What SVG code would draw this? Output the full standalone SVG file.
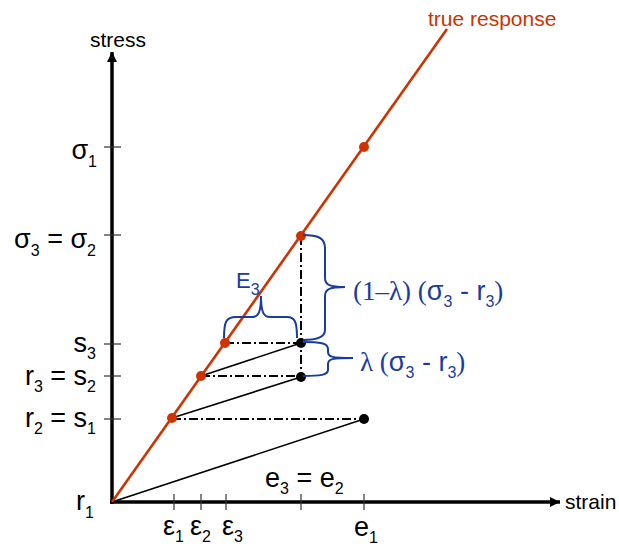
<svg xmlns="http://www.w3.org/2000/svg" width="619" height="550" viewBox="0 0 619 550">
<style>
.lbl{font-family:"Liberation Sans",Arial,sans-serif;font-size:27px;fill:#000}
.sub{font-size:16px}
.ax{font-family:"Liberation Sans",Arial,sans-serif;font-size:21px;fill:#000}
.red{font-family:"Liberation Sans",Arial,sans-serif;font-size:21px;fill:#cc3300}
.blue{font-family:"Liberation Sans",Arial,sans-serif;font-size:27px;fill:#1a3c9e}
.serif{font-family:"Liberation Serif","Times New Roman",serif}
.axis{stroke:#000;stroke-width:3.5;fill:none}
.tick{stroke:#333;stroke-width:1.2}
.thin{stroke:#000;stroke-width:1.6;fill:none}
.dd{stroke:#000;stroke-width:2;stroke-dasharray:9 3 2 3;fill:none}
.brace{stroke:#1a3c9e;stroke-width:2;fill:none}
.rdot{fill:#cc3300}
.bdot{fill:#000}
</style>
<defs>
<marker id="arr" markerUnits="userSpaceOnUse" markerWidth="11" markerHeight="10" refX="10" refY="5" orient="auto">
<path d="M0,0 L10,5 L0,10 z" fill="#000"/>
</marker>
</defs>
<g id="axes">
<line class="axis" x1="112" y1="504" x2="112" y2="52" marker-end="url(#arr)"/>
<line class="axis" x1="110" y1="502" x2="560" y2="502" marker-end="url(#arr)"/>
<text class="ax" x="90" y="47">stress</text>
<text class="ax" x="565" y="509">strain</text>
</g>
<g id="ticks">
<line class="tick" x1="104" y1="147" x2="121" y2="147"/>
<line class="tick" x1="104" y1="235" x2="121" y2="235"/>
<line class="tick" x1="104" y1="344" x2="121" y2="344"/>
<line class="tick" x1="104" y1="376" x2="121" y2="376"/>
<line class="tick" x1="104" y1="419" x2="121" y2="419"/>
<line class="tick" x1="174" y1="494" x2="174" y2="510"/>
<line class="tick" x1="201" y1="494" x2="201" y2="510"/>
<line class="tick" x1="226" y1="494" x2="226" y2="510"/>
<line class="tick" x1="301" y1="494" x2="301" y2="510"/>
<line class="tick" x1="364" y1="494" x2="364" y2="510"/>
</g>
<g id="axis-labels">
<text class="lbl" x="97" y="159" text-anchor="end">σ<tspan class="sub" dy="8">1</tspan></text>
<text class="lbl" x="96" y="248" text-anchor="end">σ<tspan class="sub" dy="8">3</tspan><tspan dy="-8"> = σ</tspan><tspan class="sub" dy="8">2</tspan></text>
<text class="lbl" x="96" y="352" text-anchor="end">s<tspan class="sub" dy="7">3</tspan></text>
<text class="lbl" x="96" y="385" text-anchor="end">r<tspan class="sub" dy="7">3</tspan><tspan dy="-7"> = s</tspan><tspan class="sub" dy="7">2</tspan></text>
<text class="lbl" x="96" y="427" text-anchor="end">r<tspan class="sub" dy="7">2</tspan><tspan dy="-7"> = s</tspan><tspan class="sub" dy="7">1</tspan></text>
<text class="lbl" x="94" y="510" text-anchor="end">r<tspan class="sub" dy="8">1</tspan></text>
<text class="lbl" x="163" y="535">ε<tspan class="sub" dy="7">1</tspan></text>
<text class="lbl" x="190" y="535">ε<tspan class="sub" dy="7">2</tspan></text>
<text class="lbl" x="222" y="535">ε<tspan class="sub" dy="7">3</tspan></text>
<text class="lbl" x="354" y="536">e<tspan class="sub" dy="7">1</tspan></text>
<text class="lbl" x="265" y="487">e<tspan class="sub" dy="7">3</tspan><tspan dy="-7"> = e</tspan><tspan class="sub" dy="7">2</tspan></text>
</g>
<g id="connectors">
<line class="thin" x1="112" y1="502" x2="364" y2="419"/>
<line class="thin" x1="172" y1="418" x2="301" y2="377"/>
<line class="thin" x1="201" y1="376" x2="301" y2="343"/>
<line class="dd" x1="172" y1="419" x2="364" y2="419"/>
<line class="dd" x1="201" y1="376" x2="301" y2="376"/>
<line class="dd" x1="225" y1="343" x2="301" y2="343"/>
<line class="dd" x1="301" y1="236" x2="301" y2="377"/>
</g>
<g id="true-response">
<line x1="112" y1="502" x2="447" y2="29" stroke="#cc3300" stroke-width="2.6"/>
<text class="red" x="428" y="26">true response</text>
<circle class="rdot" cx="364" cy="147" r="5"/>
<circle class="rdot" cx="301" cy="236" r="5"/>
<circle class="rdot" cx="225" cy="343" r="5"/>
<circle class="rdot" cx="201" cy="376" r="5"/>
<circle class="rdot" cx="172" cy="418" r="5"/>
</g>
<g id="points">
<circle class="bdot" cx="301" cy="343" r="5"/>
<circle class="bdot" cx="301" cy="377" r="5"/>
<circle class="bdot" cx="364" cy="419" r="5"/>
</g>
<g id="brace-E3">
<path class="brace" d="M224,338 C224,322 226,317 236,317 L252,317 C258,317 261,313 261,296 C261,313 264,317 270,317 L287,317 C295,317 297,322 297,338"/>
<text class="blue" x="236" y="288" style="font-size:22px">E<tspan class="sub" dy="7">3</tspan></text>
</g>
<g id="brace-1-lambda">
<path class="brace" d="M303,235 C318,235 325,238 325,248 L325,278 C325,285 330,287 345,287 C330,287 325,289 325,296 L325,330 C325,337 318,340 303,340"/>
<text class="blue" x="353" y="300"><tspan class="serif">(1–λ) (</tspan>σ<tspan class="sub" dy="7">3</tspan><tspan dy="-7"> - r</tspan><tspan class="sub" dy="7">3</tspan><tspan class="serif" dy="-7">)</tspan></text>
</g>
<g id="brace-lambda">
<path class="brace" d="M303,342 C320,342 328,343 328,349 L328,352 C328,357 332,358 353,358 C332,358 328,359 328,364 L328,370 C328,375 320,376 303,376"/>
<text class="blue" x="360" y="371"><tspan class="serif">λ (</tspan>σ<tspan class="sub" dy="7">3</tspan><tspan dy="-7"> - r</tspan><tspan class="sub" dy="7">3</tspan><tspan class="serif" dy="-7">)</tspan></text>
</g>
</svg>
